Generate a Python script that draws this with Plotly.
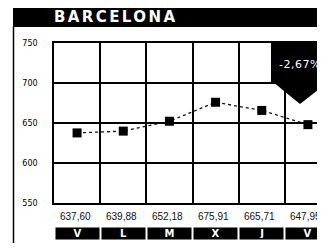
import plotly.graph_objects as go

days = ["V", "L", "M", "X", "J", "V"]
values = [637.60, 639.88, 652.18, 675.91, 665.71, 647.95]
value_labels = ["637,60", "639,88", "652,18", "675,91", "665,71", "647,95"]
y_ticks = [550, 600, 650, 700, 750]
title_text = "BARCELONA"
change_text = "-2,67%"

# the page body adds an 8px offset; work in window pixel coordinates
OFF = 8
W, H = 325 - OFF, 251 - 2 * OFF
def px(x):
    return (x - OFF) / W
def py(y):
    return (H - (y - OFF)) / H

xs = list(range(len(days)))

fig = go.Figure()
fig.add_trace(go.Scatter(
    x=xs, y=values, mode="lines+markers",
    line=dict(color="#111", width=1.3, dash="dot"),
    marker=dict(symbol="square", size=9, color="#000"),
    showlegend=False, hoverinfo="skip",
))

shapes = [
    # title bar
    dict(type="rect", xref="paper", yref="paper", x0=px(13), x1=px(330), y0=py(27), y1=py(6),
         fillcolor="#000", line=dict(width=0), layer="above"),
    # left frame line
    dict(type="line", xref="paper", yref="paper", x0=px(13.5), x1=px(13.5), y0=py(251), y1=py(26),
         line=dict(color="#000", width=1.5)),
    # callout box
    dict(type="rect", xref="paper", yref="paper", x0=px(271), x1=px(330), y0=py(83), y1=py(42),
         fillcolor="#000", line=dict(width=0), layer="above"),
    # arrow
    dict(type="path", xref="paper", yref="paper",
         path=f"M {px(273)},{py(82)} L {px(328)},{py(82)} L {px(300)},{py(104)} Z",
         fillcolor="#000", line=dict(width=0), layer="above"),
]

annotations = [
    dict(text=f"<span style='letter-spacing:2.4px'><b>{title_text}</b></span>",
         x=px(52), y=py(17), xref="paper", yref="paper",
         xanchor="left", yanchor="middle", showarrow=False,
         font=dict(family="DejaVu Sans", size=15, color="#fff")),
    dict(text=f"<span style='letter-spacing:0.5px'>{change_text}</span>",
         x=px(277), y=py(64), xref="paper", yref="paper",
         xanchor="left", yanchor="middle", showarrow=False,
         font=dict(family="DejaVu Sans", size=11, color="#fff")),
]
for i, (d, lab) in enumerate(zip(days, value_labels)):
    annotations.append(dict(text=lab, x=i, y=py(216), xref="x", yref="paper",
                            xanchor="center", yanchor="middle", showarrow=False, xshift=-2,
                            font=dict(family="Liberation Sans", size=10, color="#111")))
    annotations.append(dict(text=f"<b>{d}</b>", x=i, y=py(233), xref="x", yref="paper",
                            xanchor="center", yanchor="middle", showarrow=False,
                            width=41, height=9, bgcolor="#000", borderpad=1,
                            font=dict(family="DejaVu Sans", size=10, color="#fff")))

fig.update_layout(
    width=W, height=H,
    margin=dict(l=0, r=0, t=0, b=0, autoexpand=False),
    paper_bgcolor="#fff", plot_bgcolor="#fff",
    shapes=shapes, annotations=annotations,
    xaxis=dict(domain=[px(54), 1], range=[-0.5, 5.37], automargin=False,
               tickvals=[i + 0.5 for i in range(len(days) - 1)],
               showticklabels=False, ticks="", zeroline=False,
               showgrid=True, gridcolor="#000", gridwidth=1.8,
               showline=True, linecolor="#000", linewidth=1.5, mirror=True),
    yaxis=dict(domain=[py(203), py(43)], range=[550, 750], automargin=False,
               tickvals=y_ticks, ticks="", zeroline=False,
               showgrid=True, gridcolor="#000", gridwidth=1.5,
               showline=True, linecolor="#000", linewidth=1.5,
               ticklabelstandoff=13,
               tickfont=dict(family="DejaVu Sans", size=8, color="#000")),
)

fig.write_html("out.html")
